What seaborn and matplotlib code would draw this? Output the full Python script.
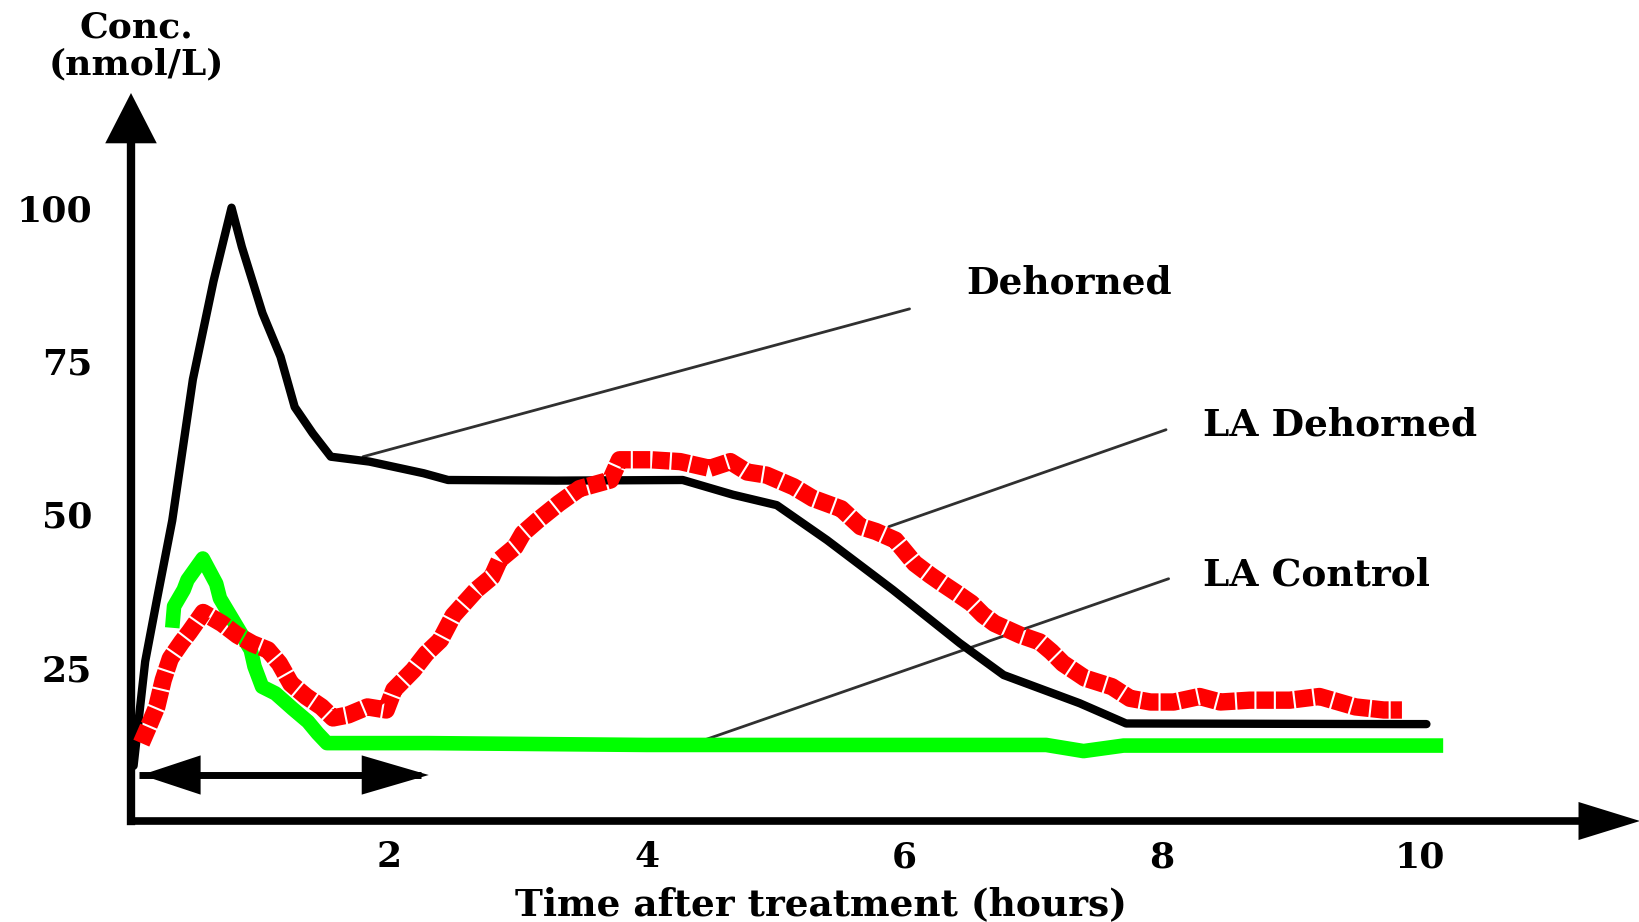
import matplotlib
matplotlib.use("Agg")
import matplotlib.pyplot as plt
import seaborn as sns
import pandas as pd

# ---------------- data ----------------
dehorned_time = [0.02, 0.11, 0.20, 0.32, 0.48, 0.64, 0.78, 0.86, 1.02, 1.16, 1.27, 1.41,
                 1.55, 1.85, 2.27, 2.46, 3.30, 4.28, 4.67, 5.01, 5.40, 5.91, 6.43, 6.77,
                 7.36, 7.72, 9.84, 10.05]
dehorned_conc = [9.0, 26.0, 36.0, 49.0, 72.0, 88.0, 100.0, 93.6, 82.8, 75.7, 67.5, 63.2,
                 59.4, 58.6, 56.7, 55.6, 55.5, 55.6, 53.2, 51.5, 45.8, 37.7, 29.0, 23.8,
                 19.2, 15.9, 15.8, 15.8]

la_dehorned_time = [0.08, 0.14, 0.20, 0.25, 0.305, 0.394, 0.453, 0.56, 0.706, 0.825, 0.943,
                    1.062, 1.151, 1.24, 1.359, 1.478, 1.567, 1.686, 1.834, 1.98, 2.04, 2.19,
                    2.29, 2.40, 2.50, 2.68, 2.80, 2.86, 2.98, 3.04, 3.16, 3.32, 3.48, 3.72,
                    3.79, 4.03, 4.26, 4.49, 4.65, 4.78, 4.93, 5.14, 5.29, 5.51, 5.66, 5.78,
                    5.93, 6.08, 6.20, 6.31, 6.41, 6.52, 6.61, 6.70, 6.90, 7.05, 7.14, 7.23,
                    7.40, 7.61, 7.75, 7.91, 8.09, 8.29, 8.45, 8.68, 8.99, 9.22, 9.50, 9.72,
                    9.86]
la_dehorned_conc = [12.7, 15.6, 18.6, 23.0, 26.5, 29.2, 30.8, 34.0, 32.2, 30.3, 28.9,
                    27.9, 25.7, 22.4, 20.3, 18.6, 16.8, 17.3, 18.6, 18.1, 21.4, 24.6,
                    27.3, 29.5, 33.5, 37.7, 39.8, 42.6, 44.7, 46.9, 49.1, 51.8, 54.2, 55.6,
                    58.9, 58.9, 58.6, 57.5, 58.6, 56.9, 56.4, 54.5, 52.6, 50.9, 48.0, 47.2,
                    45.8, 42.0, 40.1, 38.5, 37.1, 35.5, 33.6, 32.2, 30.3, 29.2, 27.6, 25.7,
                    23.3, 21.9, 20.0, 19.4, 19.4, 20.3, 19.4, 19.7, 19.7, 20.3, 18.6, 18.1,
                    18.1]

la_control_time = [0.32, 0.334, 0.409, 0.438, 0.557, 0.661, 0.69, 0.929, 0.958, 1.017, 1.121,
                   1.255, 1.373, 1.448, 1.52, 2.30, 4.00, 7.10, 7.39, 7.70, 10.18]
la_control_conc = [31.5, 35.0, 37.7, 39.3, 42.8, 38.7, 36.3, 27.9, 25.2, 21.9, 20.8,
                   18.3, 16.2, 14.3, 12.7, 12.7, 12.4, 12.4, 11.4, 12.3, 12.3]

x_ticks = [2, 4, 6, 8, 10]
y_ticks = [25, 50, 75, 100]

labels = ["Dehorned", "LA Dehorned", "LA Control"]
label_pos = [(6.48, 87.7), (8.32, 64.6), (8.32, 40.1)]
leader_start = [(1.80, 59.4), (5.88, 48.0), (4.42, 13.0)]
leader_end = [(6.04, 83.5), (8.03, 63.8), (8.05, 39.5)]

# ---------------- style ----------------
sns.set_style("white")
plt.rcParams["font.family"] = ["DejaVu Serif", "DejaVu Sans"]
plt.rcParams["font.weight"] = "bold"
plt.rcParams["text.color"] = "black"
plt.rcParams["axes.labelcolor"] = "black"
plt.rcParams["xtick.color"] = "black"
plt.rcParams["ytick.color"] = "black"

FS = 26
fig = plt.figure(figsize=(16.4, 9.22), dpi=100)
ax = fig.add_axes([131 / 1640, 101 / 922, 1509 / 1640, 728 / 922])
XMAX, YMAX = 11.707, 118.7

# leader lines (under the curves)
for (x0, y0), (x1, y1) in zip(leader_start, leader_end):
    ax.plot([x0, x1], [y0, y1], color="#303030", lw=2.0, zorder=1)

df_b = pd.DataFrame({"time": dehorned_time, "conc": dehorned_conc})
df_r = pd.DataFrame({"time": la_dehorned_time, "conc": la_dehorned_conc})
df_g = pd.DataFrame({"time": la_control_time, "conc": la_control_conc})

sns.lineplot(data=df_b, x="time", y="conc", ax=ax, color="black", lw=6.0,
             sort=False, estimator=None, zorder=3)
sns.lineplot(data=df_g, x="time", y="conc", ax=ax, color="#00ff00", lw=10.5,
             sort=False, estimator=None, zorder=4, solid_capstyle="butt")
sns.lineplot(data=df_r, x="time", y="conc", ax=ax, color="#ff0000", lw=12.5,
             sort=False, estimator=None, zorder=5, linestyle=(0, (1, 0.12)))

for txt, (tx, ty) in zip(labels, label_pos):
    ax.text(tx, ty, txt, ha="left", va="center", fontsize=FS + 1, fontweight="bold",
            color="black", zorder=6)

# double-headed arrow under the early phase
ax.plot([0.06, 2.25], [7.5, 7.5], color="black", lw=5, solid_capstyle="butt", zorder=3)
ax.fill([0.08, 0.54, 0.54], [7.5, 10.7, 4.3], color="black", zorder=3, lw=0)
ax.fill([2.31, 1.79, 1.79], [7.5, 10.7, 4.3], color="black", zorder=3, lw=0)

# axes
ax.set_xlim(0, XMAX)
ax.set_ylim(0, YMAX)
for s in ["top", "right"]:
    ax.spines[s].set_visible(False)
ax.spines["left"].set_linewidth(6)
ax.spines["bottom"].set_linewidth(5.5)
ax.spines["left"].set_color("black")
ax.spines["bottom"].set_color("black")
ax.spines["left"].set_bounds(0, 110.8)
ax.spines["bottom"].set_bounds(0, 11.25)
ax.fill([-0.2, 0.2, 0.0], [110.5, 110.5, YMAX], color="black", clip_on=False, lw=0, zorder=7)
ax.fill([11.23, 11.23, XMAX], [-3.1, 3.1, 0.0], color="black", clip_on=False, lw=0, zorder=7)

ax.set_xticks(x_ticks)
ax.set_xticklabels([str(t) for t in x_ticks])
ax.set_yticks(y_ticks)
ax.set_yticklabels([str(t) for t in y_ticks])
ax.tick_params(axis="y", direction="in", length=26, width=3, pad=28, labelsize=FS,
               colors="black")
ax.tick_params(axis="x", direction="in", length=16, width=3.5, pad=14, labelsize=FS,
               colors="black")
for lab in ax.get_xticklabels() + ax.get_yticklabels():
    lab.set_fontweight("bold")

ax.set_xlabel("Time after treatment (hours)", fontsize=FS + 1, fontweight="bold")
ax.xaxis.set_label_coords(0.457, -0.115)
ax.xaxis.label.set_va("center")
ax.set_ylabel("Conc.\n(nmol/L)", rotation=0, fontsize=FS, fontweight="bold",
              ha="center", va="center", linespacing=1.1)
ax.yaxis.set_label_coords(0.0033, 1.065)
ax.grid(False)

fig.savefig("out.png", dpi=100, facecolor="white")
